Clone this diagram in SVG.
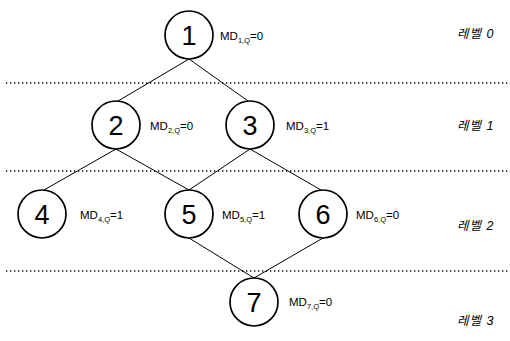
<svg xmlns="http://www.w3.org/2000/svg" width="510" height="341" viewBox="0 0 510 341">
  <style>
    .node circle { fill: #ffffff; stroke: #000000; stroke-width: 1.7; }
    .num { font-family: "Liberation Sans", Arial, sans-serif; font-size: 27px; text-anchor: middle; fill: #000; }
    .md { font-family: "Liberation Sans", Arial, sans-serif; font-size: 11.5px; fill: #000; }
    .md tspan.sub { font-size: 7.5px; fill: #000; }
    .lvl { font-family: "Liberation Sans", "Noto Sans CJK KR", sans-serif; font-size: 12.5px; font-style: italic; letter-spacing: 1px; fill: #000; }
    .sep { stroke: #000; stroke-width: 1.5; stroke-dasharray: 1.3 2.7; }
    .edge { stroke: #000; stroke-width: 1; fill: none; }
  </style>

  <!-- level separators -->
  <g id="separators">
    <line class="sep" x1="6" y1="83" x2="510" y2="83"/>
    <line class="sep" x1="6" y1="171" x2="510" y2="171"/>
    <line class="sep" x1="6" y1="271" x2="510" y2="271"/>
  </g>

  <!-- connectors -->
  <g id="connectors">
    <line class="edge" x1="189" y1="59" x2="118" y2="101"/>
    <line class="edge" x1="189" y1="59" x2="248" y2="101"/>
    <line class="edge" x1="116" y1="149" x2="44" y2="190"/>
    <line class="edge" x1="116" y1="149" x2="189" y2="190"/>
    <line class="edge" x1="250" y1="149" x2="189" y2="190"/>
    <line class="edge" x1="250" y1="149" x2="321" y2="190"/>
    <line class="edge" x1="189" y1="238" x2="254" y2="278"/>
    <line class="edge" x1="323" y1="238" x2="254" y2="278"/>
  </g>

  <g id="node1" class="node">
    <circle cx="189" cy="35" r="24"/>
    <text class="num" x="189" y="45">1</text>
    <text class="md" x="220" y="40">MD<tspan class="sub" dy="2.5">1,Q</tspan><tspan dy="-2.5">=0</tspan></text>
  </g>
  <g id="node2" class="node">
    <circle cx="116" cy="125" r="24"/>
    <text class="num" x="116" y="135">2</text>
    <text class="md" x="150" y="130">MD<tspan class="sub" dy="2.5">2,Q</tspan><tspan dy="-2.5">=0</tspan></text>
  </g>
  <g id="node3" class="node">
    <circle cx="250" cy="125" r="24"/>
    <text class="num" x="250" y="135">3</text>
    <text class="md" x="286" y="130">MD<tspan class="sub" dy="2.5">3,Q</tspan><tspan dy="-2.5">=1</tspan></text>
  </g>
  <g id="node4" class="node">
    <circle cx="42" cy="214" r="24"/>
    <text class="num" x="42" y="224">4</text>
    <text class="md" x="80" y="219">MD<tspan class="sub" dy="2.5">4,Q</tspan><tspan dy="-2.5">=1</tspan></text>
  </g>
  <g id="node5" class="node">
    <circle cx="189" cy="214" r="24"/>
    <text class="num" x="189" y="224">5</text>
    <text class="md" x="222" y="219">MD<tspan class="sub" dy="2.5">5,Q</tspan><tspan dy="-2.5">=1</tspan></text>
  </g>
  <g id="node6" class="node">
    <circle cx="323" cy="214" r="24"/>
    <text class="num" x="323" y="224">6</text>
    <text class="md" x="356" y="219">MD<tspan class="sub" dy="2.5">6,Q</tspan><tspan dy="-2.5">=0</tspan></text>
  </g>
  <g id="node7" class="node">
    <circle cx="254" cy="302" r="24"/>
    <text class="num" x="254" y="312">7</text>
    <text class="md" x="289" y="306">MD<tspan class="sub" dy="2.5">7,Q</tspan><tspan dy="-2.5">=0</tspan></text>
  </g>

  <!-- level labels -->
  <g id="levels">
    <text class="lvl" x="457" y="38">레벨 0</text>
    <text class="lvl" x="457" y="130">레벨 1</text>
    <text class="lvl" x="457" y="230">레벨 2</text>
    <text class="lvl" x="457" y="325">레벨 3</text>
  </g>
</svg>
